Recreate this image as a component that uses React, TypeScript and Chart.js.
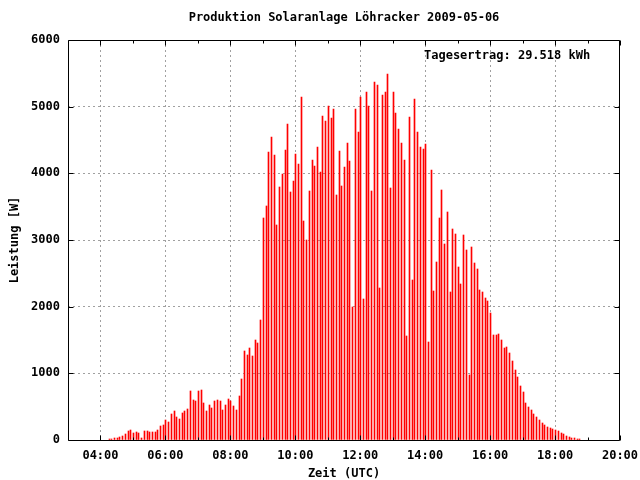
import React, { useEffect, useRef } from 'react';
import { Chart, registerables } from 'chart.js';

Chart.register(...registerables);

const TITLE = 'Produktion Solaranlage Löhracker 2009-05-06';
const X_TITLE = 'Zeit (UTC)';
const Y_TITLE = 'Leistung [W]';
const YIELD_LABEL = 'Tagesertrag: 29.518 kWh';

const TIMES = [
  '04:16', '04:21', '04:26', '04:31', '04:36', '04:41', '04:46', '04:51', '04:56',
  '05:01', '05:06', '05:11', '05:16', '05:21', '05:26', '05:31', '05:36', '05:41', '05:46', '05:51', '05:56',
  '06:01', '06:06', '06:11', '06:16', '06:21', '06:26', '06:31', '06:36', '06:41', '06:46', '06:51', '06:56',
  '07:01', '07:06', '07:11', '07:16', '07:21', '07:26', '07:31', '07:36', '07:41', '07:46', '07:51', '07:56',
  '08:01', '08:06', '08:11', '08:16', '08:21', '08:26', '08:31', '08:36', '08:41', '08:46', '08:51', '08:56',
  '09:01', '09:06', '09:11', '09:16', '09:21', '09:26', '09:31', '09:36', '09:41', '09:46', '09:51', '09:56',
  '10:01', '10:06', '10:11', '10:16', '10:21', '10:26', '10:31', '10:36', '10:41', '10:46', '10:51', '10:56',
  '11:01', '11:06', '11:11', '11:16', '11:21', '11:26', '11:31', '11:36', '11:41', '11:46', '11:51', '11:56',
  '12:01', '12:06', '12:11', '12:16', '12:21', '12:26', '12:31', '12:36', '12:41', '12:46', '12:51', '12:56',
  '13:01', '13:06', '13:11', '13:16', '13:21', '13:26', '13:31', '13:36', '13:41', '13:46', '13:51', '13:56',
  '14:01', '14:06', '14:11', '14:16', '14:21', '14:26', '14:31', '14:36', '14:41', '14:46', '14:51', '14:56',
  '15:01', '15:06', '15:11', '15:16', '15:21', '15:26', '15:31', '15:36', '15:41', '15:46', '15:51', '15:56',
  '16:01', '16:06', '16:11', '16:16', '16:21', '16:26', '16:31', '16:36', '16:41', '16:46', '16:51', '16:56',
  '17:01', '17:06', '17:11', '17:16', '17:21', '17:26', '17:31', '17:36', '17:41', '17:46', '17:51', '17:56',
  '18:01', '18:06', '18:11', '18:16', '18:21', '18:26', '18:31', '18:36', '18:41', '18:46',
];

const POWER_W = [
  15, 15, 30, 30, 45, 60, 90, 135, 150, 105, 120, 105, 30, 135, 135, 120, 120, 120, 150, 210, 225, 300, 270, 390, 435,
  345, 315, 405, 435, 465, 735, 600, 585, 735, 750, 555, 435, 525, 480, 585, 600, 585, 450, 525, 615, 585, 510, 450, 660, 915, 1335, 1275, 1380,
  1260, 1500, 1455, 1800, 3330, 3510, 4320, 4545, 4275, 3225, 3795, 3990, 4350, 4740, 3720, 3885, 4290, 4140, 5145, 3285, 3000, 3735,
  4200, 4110, 4395, 4020, 4860, 4785, 5010, 4830, 4965, 3675, 4335, 3810, 4095, 4455, 4185, 1995, 4965, 4620, 5145, 2115, 5220, 5010,
  3735, 5370, 5325, 2280, 5175, 5220, 5490, 3780, 5220, 4905, 4665, 4455, 4200, 1560, 4845, 2400, 5115, 4620, 4395, 4365, 4440, 1470,
  4050, 2235, 2670, 3330, 3750, 2940, 3420, 2220, 3165, 3090, 2595, 2340, 3075, 2850, 975, 2895, 2655, 2565, 2250, 2220, 2130, 2085,
  1905, 1575, 1575, 1590, 1500, 1380, 1395, 1305, 1185, 1050, 945, 810, 720, 555, 495, 450, 390, 345, 300,
  255, 225, 195, 180, 165, 150, 135, 105, 90, 60, 45, 30, 30, 15, 15,
];

const X_MIN_LABEL = '03:00';
const X_MAX_LABEL = '20:00';
const X_TICK_LABELS = ['04:00', '06:00', '08:00', '10:00', '12:00', '14:00', '16:00', '18:00', '20:00'];
const X_MINOR_LABELS = ['05:00', '07:00', '09:00', '11:00', '13:00', '15:00', '17:00', '19:00'];
const Y_TICKS = [0, 1000, 2000, 3000, 4000, 5000, 6000];

const FONT_FAMILY = '"DejaVu Sans Mono", "Liberation Mono", monospace';

const toMin = (s: string) => {
  const [h, m] = s.split(':').map(Number);
  return h * 60 + m;
};
const toLabel = (v: number) => {
  const h = Math.floor(v / 60);
  const m = Math.round(v - h * 60);
  return String(h).padStart(2, '0') + ':' + String(m).padStart(2, '0');
};

// snap the 1px impulses (bars) to whole device pixels so they stay crisp
const snapPlugin = {
  id: 'snapImpulses',
  beforeDatasetsDraw(chart: any) {
    chart.getSortedVisibleDatasetMetas().forEach((meta: any) => {
      meta.data.forEach((el: any) => {
        el.x = Math.round(el.x - 0.5) + 0.5;
      });
    });
  },
};

const framePlugin = {
  id: 'gnuplotFrame',
  afterDatasetsDraw(chart: any) {
    const { ctx, chartArea: a, scales } = chart;
    const xs = scales.x;
    const ys = scales.y;
    const L = Math.round(a.left) + 0.5;
    const R = Math.round(a.right) - 0.5;
    const T = Math.round(a.top) + 0.5;
    const B = Math.round(a.bottom) + 0.5;
    ctx.save();
    ctx.strokeStyle = '#000';
    ctx.lineWidth = 1;
    ctx.setLineDash([]);
    ctx.beginPath();
    ctx.rect(L, T, R - L, B - T);
    X_TICK_LABELS.forEach((l) => {
      const px = Math.round(xs.getPixelForValue(toMin(l))) + 0.5;
      ctx.moveTo(px, B); ctx.lineTo(px, B - 5);
      ctx.moveTo(px, T); ctx.lineTo(px, T + 5);
    });
    X_MINOR_LABELS.forEach((l) => {
      const px = Math.round(xs.getPixelForValue(toMin(l))) + 0.5;
      ctx.moveTo(px, B); ctx.lineTo(px, B - 3);
      ctx.moveTo(px, T); ctx.lineTo(px, T + 3);
    });
    Y_TICKS.forEach((v) => {
      const py = Math.round(ys.getPixelForValue(v)) + 0.5;
      ctx.moveTo(L, py); ctx.lineTo(L + 5, py);
      ctx.moveTo(R, py); ctx.lineTo(R - 5, py);
    });
    ctx.stroke();
    ctx.fillStyle = '#000';
    ctx.font = 'bold 12px ' + FONT_FAMILY;
    ctx.textBaseline = 'middle';
    ctx.textAlign = 'center';
    ctx.fillText(TITLE, (a.left + a.right) / 2, 18);
    ctx.textAlign = 'left';
    ctx.fillText(YIELD_LABEL, a.right - 196, a.top + 16);
    ctx.restore();
  },
};

export default function App() {
  const ref = useRef<HTMLCanvasElement | null>(null);

  useEffect(() => {
    document.body.style.margin = '0';
    const canvas = ref.current;
    if (!canvas) return;
    const font = { family: FONT_FAMILY, size: 12, weight: 'bold' as const };
    const chart = new Chart(canvas, {
      type: 'bar',
      data: {
        datasets: [
          {
            data: TIMES.map((t, i) => ({ x: toMin(t), y: POWER_W[i] })),
            backgroundColor: '#ff0000',
            borderWidth: 0,
            barThickness: 1,
          },
        ],
      },
      options: {
        animation: false,
        responsive: false,
        events: [],
        layout: { padding: { left: 0, right: 20, top: 40, bottom: 0 } },
        plugins: {
          legend: { display: false },
          tooltip: { enabled: false },
          title: { display: false },
        },
        scales: {
          x: {
            type: 'linear',
            min: toMin(X_MIN_LABEL),
            max: toMin(X_MAX_LABEL),
            offset: false,
            afterBuildTicks: (s: any) => {
              s.ticks = X_TICK_LABELS.map((l) => ({ value: toMin(l) }));
            },
            afterFit: (s: any) => {
              s.height = 40;
              s.paddingLeft = 0;
              s.paddingRight = 0;
              s.paddingTop = 0;
              s.paddingBottom = 0;
            },
            ticks: {
              autoSkip: false,
              maxRotation: 0,
              minRotation: 0,
              padding: 9,
              color: '#000',
              font,
              callback: (v: any) => toLabel(Number(v)),
            },
            grid: {
              drawTicks: false,
              offset: false,
              color: (c: any) => (c.tick && c.tick.value >= toMin(X_MAX_LABEL) ? 'rgba(0,0,0,0)' : '#a0a0a0'),
              lineWidth: 1,
            },
            border: { display: false, dash: [2, 3] },
            title: {
              display: true,
              text: X_TITLE,
              color: '#000',
              font,
              padding: { top: 0, bottom: -1 },
            },
          },
          y: {
            type: 'linear',
            min: Y_TICKS[0],
            max: Y_TICKS[Y_TICKS.length - 1],
            afterFit: (s: any) => {
              s.width = 68;
              s.paddingLeft = 0;
              s.paddingRight = 0;
              s.paddingTop = 0;
              s.paddingBottom = 0;
            },
            afterBuildTicks: (s: any) => {
              s.ticks = Y_TICKS.map((v) => ({ value: v }));
            },
            ticks: {
              padding: 8,
              color: '#000',
              font,
              callback: (v: any) => String(v),
            },
            grid: {
              drawTicks: false,
              color: (c: any) =>
                c.tick && (c.tick.value <= Y_TICKS[0] || c.tick.value >= Y_TICKS[Y_TICKS.length - 1])
                  ? 'rgba(0,0,0,0)'
                  : '#a0a0a0',
              lineWidth: 1,
            },
            border: { display: false, dash: [2, 3] },
            title: {
              display: true,
              text: Y_TITLE,
              color: '#000',
              font,
              padding: { top: 8, bottom: 0 },
            },
          },
        },
      },
      plugins: [snapPlugin, framePlugin],
    });
    return () => chart.destroy();
  }, []);

  return (
    <div style={{ width: 640, height: 480 }}>
      <canvas ref={ref} width={640} height={480} style={{ display: 'block', width: 640, height: 480 }} />
    </div>
  );
}
